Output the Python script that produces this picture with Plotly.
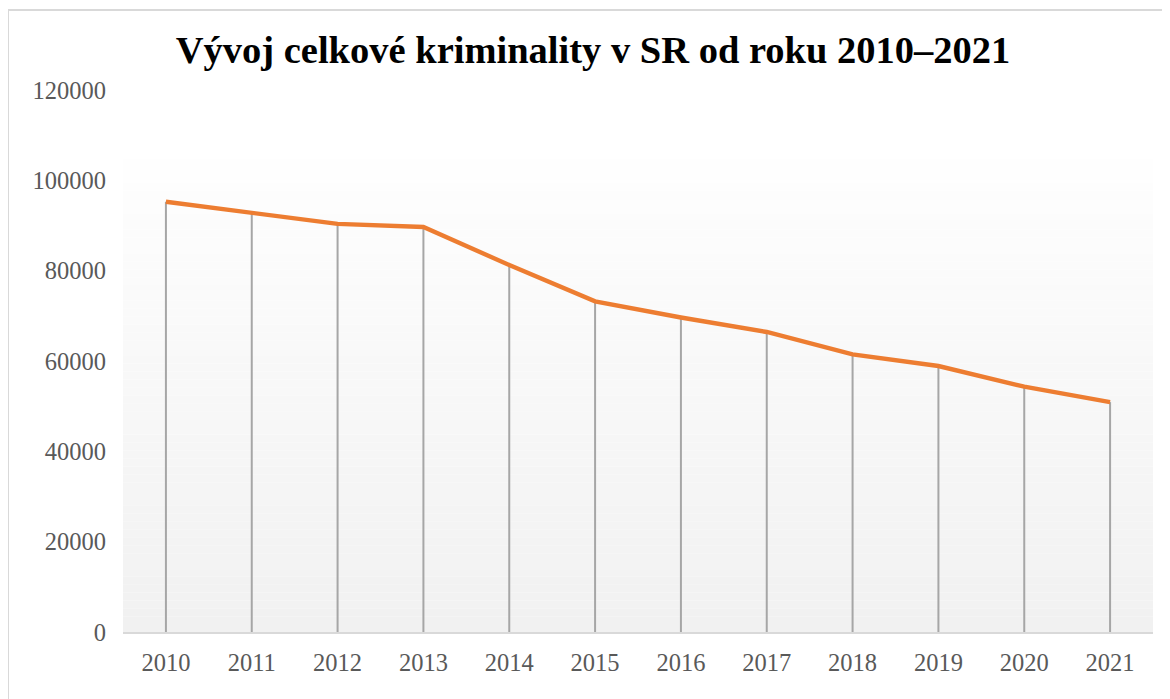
import plotly.graph_objects as go

years = ["2010", "2011", "2012", "2013", "2014", "2015", "2016", "2017", "2018", "2019", "2020", "2021"]
crimes = [95252, 92873, 90351, 89677, 81245, 73197, 69635, 66423, 61482, 58890, 54316, 50900]
y_ticks = [0, 20000, 40000, 60000, 80000, 100000, 120000]
title_text = "Vývoj celkové kriminality v SR od roku 2010–2021"

W, H = 1170, 699
ML, MR, MT, MB = 115, 25, 82, 75

fig = go.Figure()
fig.add_trace(go.Scatter(
    x=years, y=crimes, mode="lines",
    line=dict(color="#ED7D31", width=4.4),
    error_y=dict(type="data", symmetric=False, array=[0] * len(crimes),
                 arrayminus=crimes, color="#a6a6a6", thickness=2, width=0),
    hoverinfo="x+y", showlegend=False,
))

shapes = []
# gradient plot background
n = 60
top_frac = 0.873
for i in range(n):
    f0 = top_frac * i / n
    f1 = top_frac * (i + 1) / n
    t = i / (n - 1)  # 0 bottom, 1 top
    c = int(round(241 + (254 - 241) * t))
    shapes.append(dict(type="rect", xref="x domain", yref="y domain",
                       x0=0, x1=1, y0=f0, y1=f1, line=dict(width=0),
                       fillcolor=f"rgb({c},{c},{c})", layer="below"))
# outer chart border
pw = W - ML - MR
ph = H - MT - MB
shapes.append(dict(type="rect", xref="paper", yref="paper",
                   x0=(0 - ML) / pw, x1=1.2,
                   y0=-0.3, y1=1 + (MT - 2) / ph,
                   line=dict(color="#d9d9d9", width=2), fillcolor="rgba(0,0,0,0)",
                   layer="below"))

fig.update_layout(
    width=W, height=H,
    margin=dict(l=ML, r=MR, t=MT, b=MB),
    paper_bgcolor="white", plot_bgcolor="white",
    title=dict(text="<b>" + title_text + "</b>", x=0.5, xanchor="center",
               y=1 - 42 / H, yanchor="middle",
               font=dict(family="Liberation Serif, Times New Roman, serif", size=38.5, color="#000000")),
    shapes=shapes,
    font=dict(family="Liberation Serif, Times New Roman, serif", size=24.5, color="#595959"),
)
fig.update_xaxes(
    type="category", range=[-0.5, len(years) - 0.5],
    showgrid=False, zeroline=False, showline=True, linecolor="#d9d9d9", linewidth=2,
    ticks="", ticklabelstandoff=8,
    tickfont=dict(size=24.5, color="#595959"),
)
fig.update_yaxes(
    range=[0, 120000], tickvals=y_ticks, ticktext=[str(v) for v in y_ticks],
    showgrid=False, zeroline=False, showline=False, ticks="",
    ticklabelstandoff=16,
    tickfont=dict(size=24.5, color="#595959"),
)

fig.write_html("out.html")
